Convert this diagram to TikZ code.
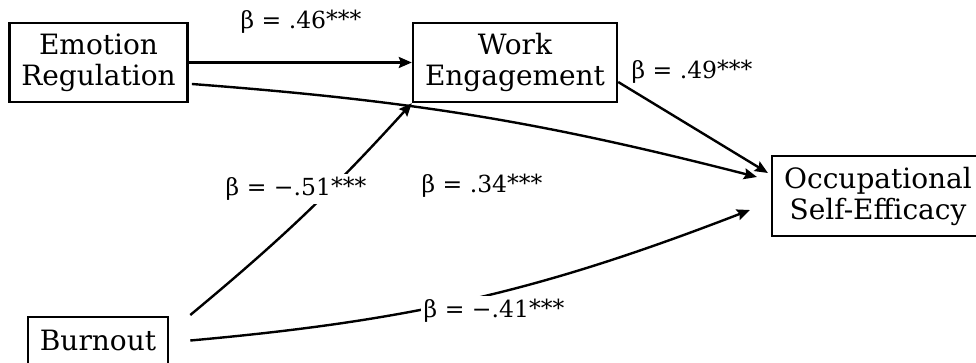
\documentclass[tikz,border=0pt]{standalone}
\usepackage{fontspec}
\setmainfont{DejaVu Serif}
\usetikzlibrary{arrows.meta}

\begin{document}
\begin{tikzpicture}[x=1pt,y=-1pt,line width=2.4pt,>={Stealth[length=13pt,width=11pt,inset=2pt]},
  box/.style={draw,align=center,inner xsep=12pt,font=\fontsize{28}{31}\selectfont},
  coef/.style={inner sep=3pt,font=\fontsize{23.5}{28}\selectfont}]
  \useasboundingbox (0,0) rectangle (976,363);
  \node[box,minimum height=79pt] (ER) at (98.5,62.5) {Emotion\\Regulation};
  \node[box,minimum height=79pt] (WE) at (515,62.5) {Work\\Engagement};
  \node[box,minimum height=80pt] (OSE) at (878,196) {Occupational\\Self-Efficacy};
  \node[box,minimum height=47pt] (BO) at (98,340.5) {Burnout};
  % paths
  \draw[->] (ER) -- (WE);
  \draw[->] ([xshift=3pt,yshift=-21.5pt]ER.east) to[bend left=5] ([xshift=-14pt,yshift=19pt]OSE.west);
  \draw[->] ([yshift=-19.5pt]WE.east) -- ([xshift=-3pt,yshift=23pt]OSE.west);
  \draw[->] ([xshift=21pt,yshift=25.5pt]BO.east) to[bend right=4] (WE.south west);
  \draw[->] ([xshift=21pt]BO.east) to[bend right=8] ([xshift=-21pt,yshift=-14pt]OSE.west);
  % coefficients
  \node[coef] (b46) at (301,22) {β = .46\raisebox{1pt}{***}};
  \node[coef] (b49) at (692,72) {β = .49\raisebox{1pt}{***}};
  \node[coef,fill=white] (b51) at (296,189) {β = −.51\raisebox{1pt}{***}};
  \node[coef] (b34) at (482,186) {β = .34\raisebox{1pt}{***}};
  \node[coef,fill=white] (b41) at (494,311) {β = −.41\raisebox{1pt}{***}};
\end{tikzpicture}
\end{document}
